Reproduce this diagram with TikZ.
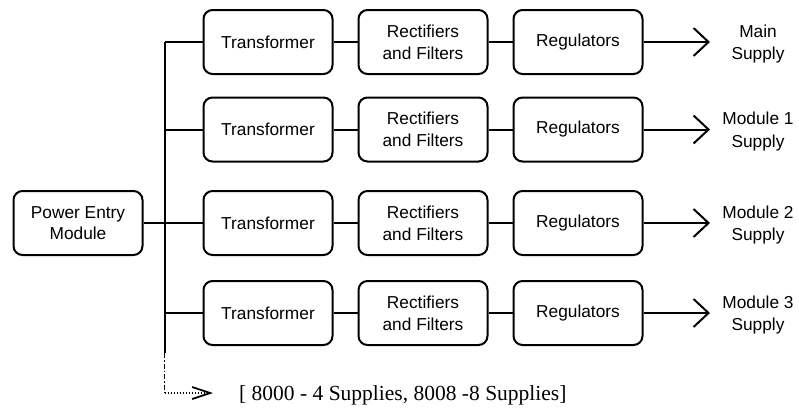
\documentclass[tikz,border=0pt]{standalone}
\usepackage{fontspec}
\setmainfont{Liberation Sans}
\newfontfamily\serifx{Liberation Serif}
\usetikzlibrary{arrows.meta}
\begin{document}
\begin{tikzpicture}[x=1pt,y=-1pt,
  blk/.style={draw, line width=2pt, rounded corners=9pt, minimum width=129pt, minimum height=64pt, align=center, inner sep=0pt, font=\fontsize{17.3}{21.7}\selectfont},
  wire/.style={line width=2pt},
  outarrow/.style={line width=2pt, -{Straight Barb[length=15pt,width=28pt,line width=2pt]}},
  lbl/.style={align=center, font=\fontsize{17.3}{22.5}\selectfont, inner sep=0pt}]
\useasboundingbox (0,0) rectangle (799,410);
\node[blk] (pem) at (78,223) {Power Entry\\Module};
\coordinate (j1) at (164.5,42);
\coordinate (j2) at (164.5,129.5);
\coordinate (j3) at (164.5,223);
\coordinate (j4) at (164.5,313);
\coordinate (jsolid) at (164.5,353);
\coordinate (jbot) at (164.5,393);
\coordinate (tip) at (213,393);
\foreach \i/\y/\lab in {1/42/{Main\\Supply},2/129.5/{Module 1\\Supply},3/223/{Module 2\\Supply},4/313/{Module 3\\Supply}}{
  \node[blk] (t\i) at (268,\y) {Transformer};
  \node[blk] (r\i) at (423,\y) {Rectifiers\\and Filters};
  \node[blk] (g\i) at (578,\y) {Regulators};
  \coordinate (o\i) at (710,\y);
  \node[lbl] (l\i) at (758,\y+2) {\lab};
  \draw[wire] (j\i) -- (t\i.west);
  \draw[wire] (t\i) -- (r\i);
  \draw[wire] (r\i) -- (g\i);
  \draw[outarrow] (g\i.east) -- (o\i);
}
\draw[wire] (pem.east) -- (j3);
\draw[wire] (j1) -- (jsolid);
\draw[line width=1.6pt, dash pattern=on 5pt off 2pt on 1.5pt off 2pt] (jsolid) -- (jbot);
\draw[line width=1.6pt, dash pattern=on 1.5pt off 1.5pt, -{Straight Barb[length=18pt,width=12pt,line width=1.8pt]}] (jbot) -- (tip);
\node[anchor=base west, inner sep=0pt, font=\serifx\fontsize{21.5}{25}\selectfont] (note) at (239,400) {[ 8000 - 4 Supplies, 8008 -8 Supplies]};
\end{tikzpicture}
\end{document}
